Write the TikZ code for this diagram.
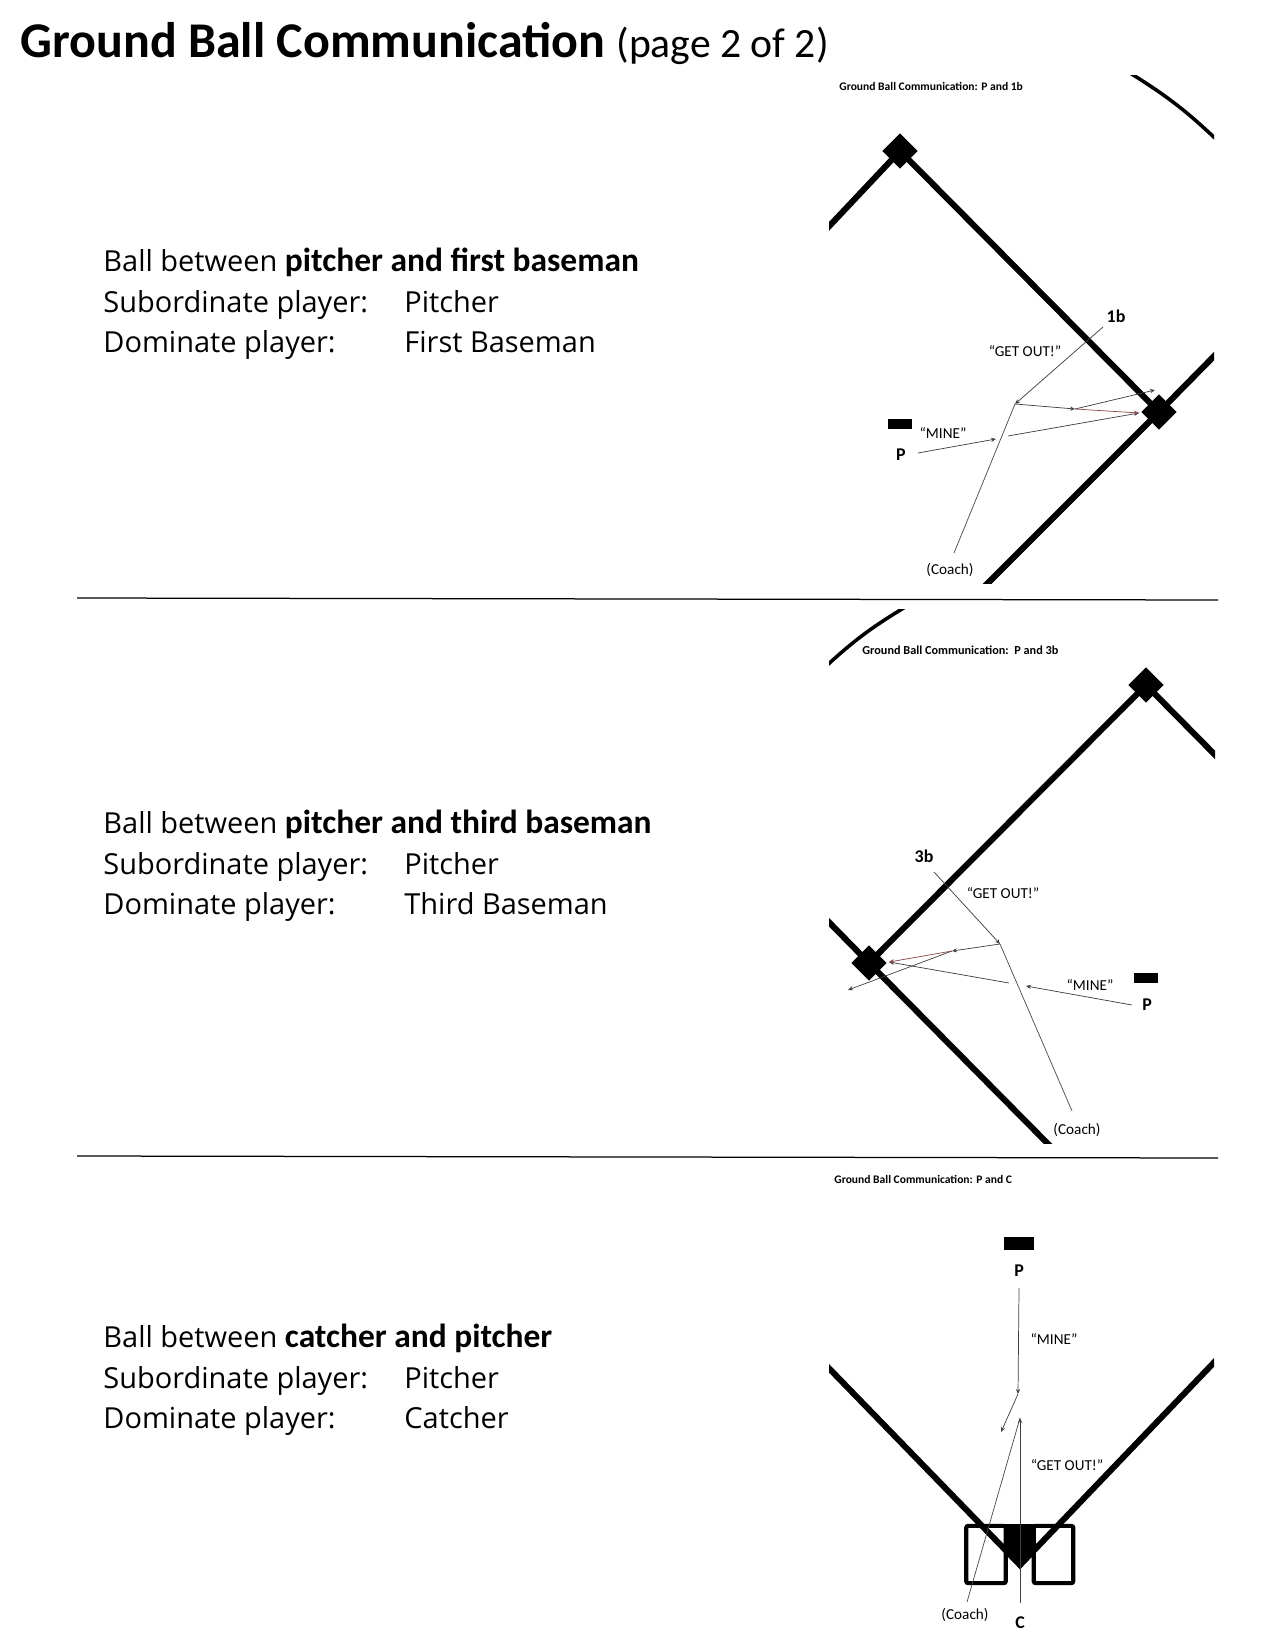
\documentclass[tikz,border=0pt]{standalone}
\usepackage{fontspec}
\setmainfont{Carlito}
\newfontfamily\bodyfont[BoldFont=Carlito Bold, BoldFeatures={Scale=1.155}]{Open Sans}
\usetikzlibrary{shapes.geometric, arrows.meta, positioning}
\tikzset{
  basebag/.style={diamond, fill=black, draw=none, minimum width=17pt, minimum height=17pt, inner sep=0pt},
  mound/.style={rectangle, fill=black, draw=none, minimum width=11.5pt, minimum height=5pt, inner sep=0pt},
  homeplate/.style={fill=black, draw=none},
  batterbox/.style={rectangle, draw=black, line width=2pt, rounded corners=1pt, minimum width=19pt, minimum height=27.5pt, inner sep=0pt},
  foul/.style={draw=black, line width=2.9pt},
  fence/.style={draw=black, line width=1.7pt},
  play/.style={-{Stealth[length=2.4pt,width=2pt]}, draw=black!75, line width=0.35pt},
  plain/.style={draw=black!70, line width=0.35pt},
  redplay/.style={-{Stealth[length=2.4pt,width=2pt]}, draw=red!35!black!70, line width=0.35pt},
  rule/.style={draw=black, line width=0.6pt},
  headline/.style={anchor=base west, inner sep=0pt, font=\fontsize{20}{24}\selectfont},
  body/.style={anchor=base west, inner sep=0pt, font=\bodyfont\fontsize{13.9}{16}\selectfont},
  caption/.style={anchor=base west, inner sep=0pt, font=\fontsize{5.55}{6}\selectfont\bfseries},
  call/.style={inner sep=0pt, font=\fontsize{7.3}{8}\selectfont},
  tag/.style={inner sep=0pt, font=\fontsize{8.6}{9}\selectfont\bfseries},
}
\begin{document}
\begin{tikzpicture}[x=0.48pt, y=-0.48pt]
  \useasboundingbox (0,0) rectangle (1275,1650);

  % title
  \node[headline] (title) at (20,58) {\fontsize{24}{28}\selectfont\textbf{Ground Ball Communication} \fontsize{20}{24}\selectfont(page 2 of 2)};

  % text column
  \node[body] (t1a) at (103,272) {Ball between \textbf{pitcher and first baseman}};
  \node[body] (t1b) at (103,313) {Subordinate player:};
  \node[body] (t1c) at (404,313) {Pitcher};
  \node[body] (t1d) at (103,353) {Dominate player:};
  \node[body] (t1e) at (404,353) {First Baseman};

  \node[body] (t2a) at (103,833) {Ball between \textbf{pitcher and third baseman}};
  \node[body] (t2b) at (103,874) {Subordinate player:};
  \node[body] (t2c) at (404,874) {Pitcher};
  \node[body] (t2d) at (103,914) {Dominate player:};
  \node[body] (t2e) at (404,914) {Third Baseman};

  \node[body] (t3a) at (103,1347) {Ball between \textbf{catcher and pitcher}};
  \node[body] (t3b) at (103,1388) {Subordinate player:};
  \node[body] (t3c) at (404,1388) {Pitcher};
  \node[body] (t3d) at (103,1428) {Dominate player:};
  \node[body] (t3e) at (404,1428) {Catcher};

  % separators
  \coordinate (r1a) at (77,598);  \coordinate (r1b) at (1218,600);
  \coordinate (r2a) at (77,1156); \coordinate (r2b) at (1218,1158);
  \draw[rule] (r1a) -- (r1b);
  \draw[rule] (r2a) -- (r2b);

  % P and 1b
  \begin{scope}
    \clip (829,76) rectangle (1214,583);
    \node[basebag] (second) at (900,151) {};
    \node[basebag] (first) at (1159,412) {};
    \coordinate (c1a) at (819,237); \coordinate (c1b) at (977,594);
    \coordinate (c1c) at (1224,346);
    \coordinate (arc1a) at (1130,73); \coordinate (arc1b) at (1220,143);
    \draw[foul] (c1a) -- (second.center) -- (first.center) -- (c1b);
    \draw[foul] (first.center) -- (c1c);
    \draw[fence] (arc1a) to[bend left=6] (arc1b);
  \end{scope}
  \node[caption] (cap1) at (839,91) {Ground Ball Communication: P and 1b};
  \node[mound] (p1) at (900,424) {};
  \node[tag] (lp1) at (901,455) {P};
  \node[tag] (l1b) at (1116,316) {1b};
  \node[call] (mine1) at (943,433) {“MINE”};
  \node[call] (out1) at (1025,351) {“GET OUT!”};
  \node[call] (coach1) at (950,570) {(Coach)};
  \coordinate (a1) at (918,453);  \coordinate (a2) at (996,439);
  \coordinate (a3) at (1008,436); \coordinate (a4) at (1139,413);
  \coordinate (a5) at (1103,327); \coordinate (a6) at (1015,404);
  \coordinate (a7) at (1075,409); \coordinate (a8) at (1155,390);
  \coordinate (a9) at (954,553);
  \draw[play] (a1) -- (a2);
  \draw[play] (a3) -- (a4);
  \draw[play] (a5) -- (a6);
  \draw[play] (a6) -- (a7);
  \draw[play] (a7) -- (a8);
  \draw[redplay] (a7) -- (a4);
  \draw[plain] (a9) -- (a6);

  % P and 3b
  \begin{scope}
    \clip (829,609) rectangle (1215,1143);
    \node[basebag] (secondb) at (1146,685) {};
    \node[basebag] (third) at (869,963) {};
    \coordinate (c2a) at (1225,765); \coordinate (c2b) at (819,912);
    \coordinate (c2c) at (1059,1155);
    \coordinate (arc2a) at (823,669); \coordinate (arc2b) at (907,606);
    \draw[foul] (c2a) -- (secondb.center) -- (third.center);
    \draw[foul] (c2b) -- (third.center) -- (c2c);
    \draw[fence] (arc2a) to[bend left=6] (arc2b);
  \end{scope}
  \node[caption, font=\fontsize{5.87}{6}\selectfont\bfseries] (cap2) at (862,654) {Ground Ball Communication:\ \ P and 3b};
  \node[mound] (p2) at (1146,978) {};
  \node[tag] (lp2) at (1147,1005) {P};
  \node[tag] (l3b) at (924,856) {3b};
  \node[call] (mine2) at (1090,985) {“MINE”};
  \node[call] (out2) at (1003,893) {“GET OUT!”};
  \node[call] (coach2) at (1077,1130) {(Coach)};
  \coordinate (b1) at (1132,1005); \coordinate (b2) at (1026,986);
  \coordinate (b3) at (1009,983);  \coordinate (b4) at (889,962);
  \coordinate (b5) at (934,872);   \coordinate (b6) at (1000,944);
  \coordinate (b7) at (952,951);   \coordinate (b8) at (848,990);
  \coordinate (b9) at (1072,1111);
  \draw[play] (b1) -- (b2);
  \draw[play] (b3) -- (b4);
  \draw[play] (b5) -- (b6);
  \draw[play] (b6) -- (b7);
  \draw[play] (b7) -- (b8);
  \draw[redplay] (b7) -- (b4);
  \draw[plain] (b9) -- (b6);

  % P and C
  \begin{scope}
    \clip (829,1300) rectangle (1214,1650);
    \coordinate (c3a) at (819,1358); \coordinate (c3b) at (1224,1352);
    \coordinate (c3c) at (1020,1565);
    \draw[foul] (c3a) -- (c3c) -- (c3b);
  \end{scope}
  \node[batterbox] (boxl) at (986,1554.5) {};
  \node[batterbox] (boxr) at (1053.5,1554.5) {};
  \fill[homeplate] (1005,1524) -- (1035,1524) -- (1035,1550) -- (1020,1568) -- (1005,1550) -- cycle;
  \node[caption] (cap3) at (834,1183) {Ground Ball Communication: P and C};
  \node[mound, minimum width=14pt, minimum height=6.5pt] (p3) at (1019,1243.5) {};
  \node[tag] (lp3) at (1019,1271) {P};
  \node[tag] (lc) at (1020,1623) {C};
  \node[call] (mine3) at (1054,1339) {“MINE”};
  \node[call] (out3) at (1067,1465) {“GET OUT!”};
  \node[call] (coach3) at (965,1615) {(Coach)};
  \coordinate (d1) at (1019,1288); \coordinate (d2) at (1018,1394);
  \coordinate (d3) at (1001,1432);
  \coordinate (d4) at (1020,1603); \coordinate (d5) at (1020,1418);
  \coordinate (d6) at (967,1602);
  \draw[play] (d1) -- (d2);
  \draw[play] (d2) -- (d3);
  \draw[play] (d4) -- (d5);
  \draw[plain] (d6) -- (d5);
\end{tikzpicture}
\end{document}
